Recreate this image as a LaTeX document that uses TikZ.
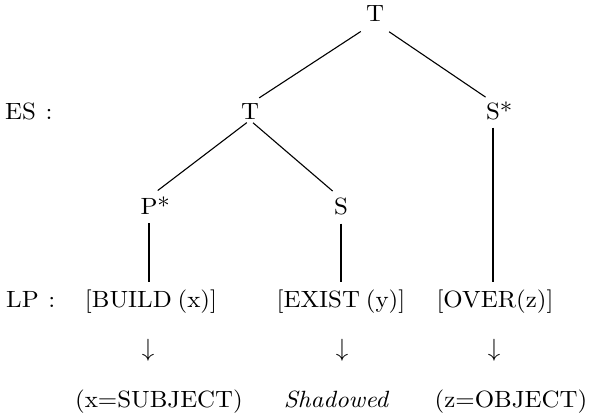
\documentclass[tikz,border=0pt]{standalone}
\usepackage{fontspec}
\setmainfont{lmroman10}[Extension=.otf, UprightFont=*-regular, ItalicFont=*-italic, BoldFont=*-bold, FakeStretch=1.06, WordSpace=0.7]
\begin{document}
\begin{tikzpicture}[x=1pt,y=-1pt,
  lab/.style={inner sep=0pt,anchor=base,font=\fontsize{23.5}{28}\selectfont},
  edge/.style={line width=1.1pt,black},
  arr/.style={inner sep=0pt,anchor=center,font=\fontsize{23.5}{28}\selectfont}]
\useasboundingbox (0,0) rectangle (592,414);
% tree nodes
\node[lab] (Ttop) at (375,22) {T};
\node[lab] (Tmid) at (250,120) {T};
\node[lab] (Sstar) at (493,120) {S\rlap{*}};
\node[lab] (Pstar) at (149,215) {P\rlap{*}};
\node[lab] (S) at (341,215) {S};
% side labels
\node[lab,anchor=base west] (ES) at (5,120) {ES~\,:};
\node[lab,anchor=base west] (LP) at (6,307) {LP~\,:};
% LP row
\node[lab] (build) at (151,307) {[BUILD (x)]};
\node[lab] (exist) at (341,307) {[EXIST (y)]};
\node[lab] (over) at (495,307) {[OVER(z)]};
% arrows
\node[arr] (a1) at (148,350) {$\downarrow$};
\node[arr] (a2) at (342,350) {$\downarrow$};
\node[arr] (a3) at (494,350) {$\downarrow$};
% bottom row
\node[lab] (subj) at (159,407) {(x=SUBJECT)};
\node[lab] (shad) at (336,407) {\itshape Shadowed};
\node[lab] (obj) at (511,407) {(z=OBJECT)};
% connectors
\draw[edge,shorten <=17pt,shorten >=11pt] (Ttop.south) -- (Tmid.north);
\draw[edge,shorten <=17pt,shorten >=9pt] (Ttop.south) -- (Sstar.north);
\draw[edge,shorten <=4pt,shorten >=11pt] (Tmid.south) -- (Pstar.north);
\draw[edge,shorten <=4pt,shorten >=11pt] (Tmid.south) -- (S.north);
\draw[edge,shorten <=7pt,shorten >=7pt] (Sstar.south) -- (Sstar.south |- over.north);
\draw[edge,shorten <=8pt,shorten >=7pt] (Pstar.south) -- (Pstar.south |- build.north);
\draw[edge,shorten <=8pt,shorten >=7pt] (S.south) -- (S.south |- exist.north);
\end{tikzpicture}
\end{document}
